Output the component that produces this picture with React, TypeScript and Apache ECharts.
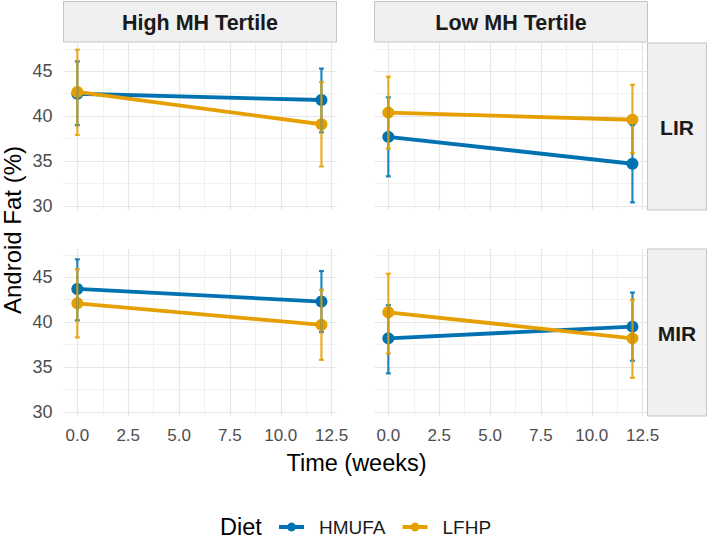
import React, { useEffect, useRef } from "react";
import * as echarts from "echarts";

// ---------- data ----------
const times = [0, 12];
const diets = ["HMUFA", "LFHP"];
const tertiles = ["High MH Tertile", "Low MH Tertile"];
const irGroups = ["LIR", "MIR"];
const xTicks = [0, 2.5, 5, 7.5, 10, 12.5];
const yTicks = [30, 35, 40, 45];

// High MH Tertile / LIR
const highLIR_HMUFA_mean = [42.5, 41.8];
const highLIR_HMUFA_lo = [39.0, 38.2];
const highLIR_HMUFA_hi = [46.1, 45.3];
const highLIR_LFHP_mean = [42.7, 39.1];
const highLIR_LFHP_lo = [37.9, 34.4];
const highLIR_LFHP_hi = [47.4, 43.8];
// Low MH Tertile / LIR
const lowLIR_HMUFA_mean = [37.7, 34.7];
const lowLIR_HMUFA_lo = [33.3, 30.4];
const lowLIR_HMUFA_hi = [42.1, 39.0];
const lowLIR_LFHP_mean = [40.4, 39.6];
const lowLIR_LFHP_lo = [36.4, 35.9];
const lowLIR_LFHP_hi = [44.4, 43.5];
// High MH Tertile / MIR
const highMIR_HMUFA_mean = [43.7, 42.3];
const highMIR_HMUFA_lo = [40.2, 38.9];
const highMIR_HMUFA_hi = [47.0, 45.7];
const highMIR_LFHP_mean = [42.1, 39.7];
const highMIR_LFHP_lo = [38.3, 35.8];
const highMIR_LFHP_hi = [45.9, 43.6];
// Low MH Tertile / MIR
const lowMIR_HMUFA_mean = [38.2, 39.5];
const lowMIR_HMUFA_lo = [34.3, 35.7];
const lowMIR_HMUFA_hi = [41.9, 43.3];
const lowMIR_LFHP_mean = [41.1, 38.2];
const lowMIR_LFHP_lo = [36.5, 33.8];
const lowMIR_LFHP_hi = [45.4, 42.5];

const colors = ["#0072B2", "#E69F00"];
const FONT = "'Liberation Sans', Arial, Helvetica, sans-serif";

// panel order: top-left, top-right, bottom-left, bottom-right
const panels = [
  { hm: 0, ir: 0, series: [[highLIR_HMUFA_mean, highLIR_HMUFA_lo, highLIR_HMUFA_hi], [highLIR_LFHP_mean, highLIR_LFHP_lo, highLIR_LFHP_hi]] },
  { hm: 1, ir: 0, series: [[lowLIR_HMUFA_mean, lowLIR_HMUFA_lo, lowLIR_HMUFA_hi], [lowLIR_LFHP_mean, lowLIR_LFHP_lo, lowLIR_LFHP_hi]] },
  { hm: 0, ir: 1, series: [[highMIR_HMUFA_mean, highMIR_HMUFA_lo, highMIR_HMUFA_hi], [highMIR_LFHP_mean, highMIR_LFHP_lo, highMIR_LFHP_hi]] },
  { hm: 1, ir: 1, series: [[lowMIR_HMUFA_mean, lowMIR_HMUFA_lo, lowMIR_HMUFA_hi], [lowMIR_LFHP_mean, lowMIR_LFHP_lo, lowMIR_LFHP_hi]] },
];

const colLeft = [63.5, 374.5];
const rowTop = [43, 249];
const PW = 273;
const PH = 167;

export default function App() {
  const ref = useRef<HTMLDivElement>(null);

  useEffect(() => {
    document.body.style.margin = "0";
    if (!ref.current) return;
    const chart = echarts.init(ref.current, null, { renderer: "svg" });

    const grids = panels.map((p) => ({
      left: colLeft[p.hm],
      top: rowTop[p.ir],
      width: PW,
      height: PH,
      containLabel: false,
    }));

    const xAxes = panels.map((p, i) => ({
      type: "value",
      gridIndex: i,
      min: -0.68,
      max: 12.74,
      minInterval: 2.5,
      maxInterval: 2.5,
      splitNumber: 5,
      axisLine: { show: false },
      axisTick: { show: false },
      minorTick: { show: false, splitNumber: 2 },
      axisLabel: {
        show: p.ir === 1,
        margin: 11,
        fontSize: 17,
        color: "#4D4D4D",
        fontFamily: FONT,
        formatter: (v: number) => (xTicks.some((t) => Math.abs(t - v) < 1e-6) ? v.toFixed(1) : ""),
      },
      splitLine: { show: true, showMinLine: false, showMaxLine: false, lineStyle: { color: "#E6E6E6", width: 1.2 } },
      minorSplitLine: { show: true, lineStyle: { color: "#EFEFEF", width: 0.9 } },
    }));

    const yAxes = panels.map((p, i) => ({
      type: "value",
      gridIndex: i,
      min: 29.55,
      max: 48.15,
      minInterval: 5,
      maxInterval: 5,
      splitNumber: 4,
      axisLine: { show: false },
      axisTick: { show: false },
      minorTick: { show: false, splitNumber: 2 },
      axisLabel: {
        show: p.hm === 0,
        margin: 11,
        fontSize: 18,
        color: "#4D4D4D",
        fontFamily: FONT,
        formatter: (v: number) => (yTicks.some((t) => Math.abs(t - v) < 1e-6) ? String(v) : ""),
      },
      splitLine: { show: true, showMinLine: false, showMaxLine: false, lineStyle: { color: "#E6E6E6", width: 1.2 } },
      minorSplitLine: { show: true, lineStyle: { color: "#EFEFEF", width: 0.9 } },
    }));

    const lineSeries: any[] = [];
    const errSeries: any[] = [];
    panels.forEach((p, pi) => {
      p.series.forEach(([mean, lo, hi], di) => {
        lineSeries.push({
          type: "line",
          name: diets[di],
          xAxisIndex: pi,
          yAxisIndex: pi,
          data: times.map((t, k) => [t, mean[k]]),
          symbol: "circle",
          symbolSize: 12,
          showSymbol: true,
          color: colors[di],
          lineStyle: { width: 3.8, color: colors[di] },
          itemStyle: { color: colors[di] },
          z: 3 + di,
        });
        errSeries.push({
          type: "custom",
          name: diets[di] + " CI",
          xAxisIndex: pi,
          yAxisIndex: pi,
          data: times.map((t, k) => [t, lo[k], hi[k]]),
          encode: { x: 0, y: [1, 2] },
          z: 5 + di,
          renderItem: (params: any, api: any) => {
            const x = api.value(0);
            const a = api.coord([x, api.value(1)]);
            const b = api.coord([x, api.value(2)]);
            const w = 2.5;
            const st = { stroke: colors[di], lineWidth: 2.2, opacity: 0.85 };
            return {
              type: "group",
              children: [
                { type: "line", shape: { x1: a[0], y1: a[1], x2: b[0], y2: b[1] }, style: st },
                { type: "line", shape: { x1: a[0] - w, y1: a[1], x2: a[0] + w, y2: a[1] }, style: st },
                { type: "line", shape: { x1: b[0] - w, y1: b[1], x2: b[0] + w, y2: b[1] }, style: st },
              ],
            };
          },
        });
      });
    });

    const stripFill = "#F0F0F0";
    const stripStroke = "#C4C4C4";
    const graphics: any[] = [];
    tertiles.forEach((name, c) => {
      graphics.push({
        type: "rect",
        shape: { x: colLeft[c], y: 1.5, width: PW, height: 40.5 },
        style: { fill: stripFill, stroke: stripStroke, lineWidth: 1 },
      });
      graphics.push({
        type: "text",
        x: colLeft[c] + PW / 2,
        y: 23,
        style: { text: name, fontSize: 21.5, fontWeight: "bold", fill: "#1A1A1A", fontFamily: FONT, align: "center", verticalAlign: "middle" },
      });
    });
    irGroups.forEach((name, r) => {
      const x0 = colLeft[1] + PW;
      graphics.push({
        type: "rect",
        shape: { x: x0, y: rowTop[r], width: 59, height: PH },
        style: { fill: stripFill, stroke: stripStroke, lineWidth: 1 },
      });
      graphics.push({
        type: "text",
        x: x0 + 29.5,
        y: rowTop[r] + PH / 2 + 1,
        style: { text: name, fontSize: 21, fontWeight: "bold", fill: "#1A1A1A", fontFamily: FONT, align: "center", verticalAlign: "middle" },
      });
    });
    graphics.push({
      type: "text",
      x: 356.5,
      y: 463,
      style: { text: "Time (weeks)", fontSize: 23.5, fill: "#000000", fontFamily: FONT, align: "center", verticalAlign: "middle" },
    });
    graphics.push({
      type: "text",
      x: 12,
      y: 230,
      rotation: Math.PI / 2,
      style: { text: "Android Fat (%)", fontSize: 24, fill: "#000000", fontFamily: FONT, align: "center", verticalAlign: "middle" },
    });
    graphics.push({
      type: "text",
      x: 220,
      y: 527,
      style: { text: "Diet", fontSize: 23.5, fill: "#000000", fontFamily: FONT, align: "left", verticalAlign: "middle" },
    });

    chart.setOption({
      animation: false,
      backgroundColor: "#FFFFFF",
      grid: grids,
      xAxis: xAxes,
      yAxis: yAxes,
      legend: {
        data: diets,
        left: 272,
        top: 512,
        padding: 5,
        itemWidth: 25,
        itemHeight: 11,
        itemGap: 15,
        lineStyle: { width: 4 },
        textStyle: { fontSize: 19, color: "#1A1A1A", fontFamily: FONT, padding: [0, 0, 0, 10], lineHeight: 20 },
      },
      series: [...lineSeries, ...errSeries],
      graphic: graphics,
    });

    return () => chart.dispose();
  }, []);

  return <div ref={ref} style={{ width: 709, height: 540 }} />;
}
